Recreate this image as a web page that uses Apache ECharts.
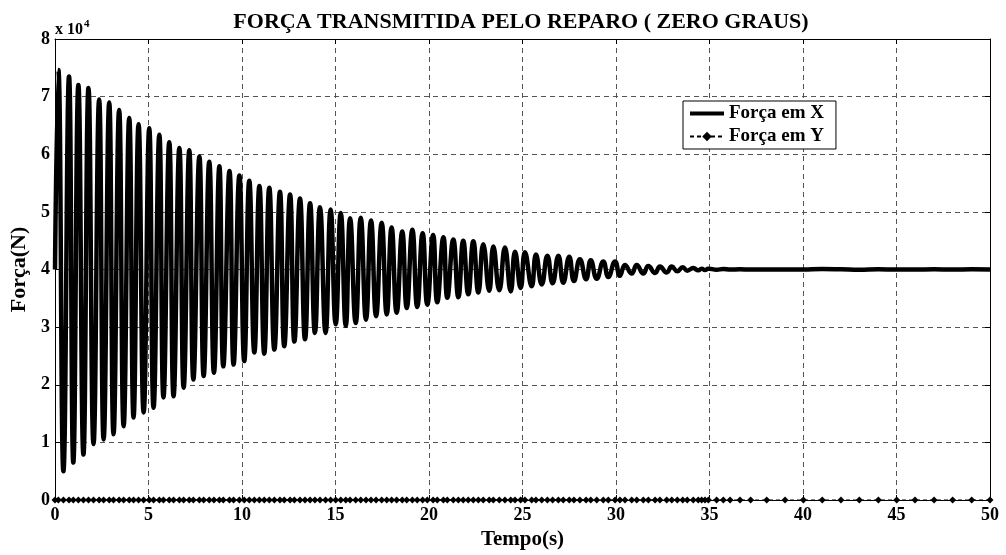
<!DOCTYPE html>
<html>
<head>
<meta charset="utf-8">
<script src="https://cdn.jsdelivr.net/npm/echarts@6/dist/echarts.min.js"></script>
<style>
  html, body { margin: 0; padding: 0; background: #fff; }
  #chart { width: 1006px; height: 555px; }
</style>
</head>
<body>
<div id="chart"></div>
<script>
// Solver time steps (s)
const tempo = [
  0, 0.18, 0.45, 0.75, 0.98, 1.25, 1.52, 1.79, 2.06, 2.36,
  2.60, 2.90, 3.13, 3.43, 3.67, 3.97, 4.20, 4.47, 4.74, 5.04,
  5.27, 5.58, 5.80, 6.11, 6.34, 6.65, 6.88, 7.18, 7.40, 7.72,
  7.95, 8.25, 8.50, 8.79, 9.00, 9.33, 9.55, 9.86, 10.12, 10.39,
  10.66, 10.93, 11.19, 11.46, 11.73, 12.03, 12.26, 12.57, 12.80, 13.10,
  13.37, 13.64, 13.90, 14.17, 14.47, 14.74, 15.01, 15.28, 15.55, 15.78,
  16.08, 16.35, 16.63, 16.90, 17.17, 17.47, 17.74, 18.00, 18.27, 18.57,
  18.81, 19.11, 19.37, 19.66, 19.91, 20.22, 20.44, 20.77, 20.98, 21.30,
  21.57, 21.83, 22.10, 22.37, 22.64, 22.90, 23.22, 23.44, 23.76, 24.06,
  24.37, 24.60, 24.90, 25.13, 25.49, 25.72, 26.03, 26.33, 26.61, 26.92,
  27.18, 27.50, 27.75, 28.07, 28.40, 28.65, 28.97, 29.32, 29.59, 29.95,
  30.21, 30.48, 30.84, 31.11, 31.46, 31.73, 32.09, 32.35, 32.71, 32.98,
  33.28, 33.57, 33.81, 34.13, 34.40, 34.58, 34.76, 34.94, 35.38, 35.74,
  36.10, 36.63, 37.20, 38.06, 39.04, 40.02, 41.03, 42.03, 43.01, 44.03,
  45.01, 45.99, 47.01, 48.00, 49.02, 50.00
];

// Transmitted force in X (N)
const forcaX = [
  40000, 74600, 5000, 73500, 6500, 72000, 7900, 71500, 9700, 69500,
  10500, 69000, 11400, 67700, 12800, 66300, 14300, 65200, 15200, 64500,
  16000, 63400, 17800, 62100, 18000, 61100, 19500, 60700, 20900, 59600,
  21500, 58700, 22100, 57900, 23200, 57100, 23500, 56300, 24100, 55400,
  25600, 54500, 25400, 54200, 26100, 53500, 26700, 53000, 27500, 52300,
  27900, 51500, 29000, 50800, 29000, 50400, 30500, 49800, 30200, 48900,
  30700, 49000, 31300, 48500, 31900, 48100, 32200, 47300, 32500, 46600,
  33300, 46900, 33500, 46300, 33900, 46000, 34300, 45600, 35100, 45200,
  35200, 45000, 35700, 44900, 36000, 44400, 36300, 44000, 36400, 43800,
  36200, 43100, 36800, 43000, 37100, 42600, 37400, 42400, 37600, 42400,
  37700, 42200, 38000, 41800, 38300, 41600, 38400, 41400, 38700, 41400,
  38900, 40800, 39300, 40800, 39300, 40600, 39400, 40500, 39500, 40500,
  39700, 40400, 39800, 40250, 39850, 40150, 39900, 40150, 39950, 40080,
  39980, 40050, 39980, 40000, 39980, 40000, 40080, 40040, 39970, 40030,
  40000, 40000, 40030, 40000, 40030, 40000
];

// Transmitted force in Y (N)
const forcaY = [
  0, 0, 0, 0, 0, 0, 0, 0, 0, 0,
  0, 0, 0, 0, 0, 0, 0, 0, 0, 0,
  0, 0, 0, 0, 0, 0, 0, 0, 0, 0,
  0, 0, 0, 0, 0, 0, 0, 0, 0, 0,
  0, 0, 0, 0, 0, 0, 0, 0, 0, 0,
  0, 0, 0, 0, 0, 0, 0, 0, 0, 0,
  0, 0, 0, 0, 0, 0, 0, 0, 0, 0,
  0, 0, 0, 0, 0, 0, 0, 0, 0, 0,
  0, 0, 0, 0, 0, 0, 0, 0, 0, 0,
  0, 0, 0, 0, 0, 0, 0, 0, 0, 0,
  0, 0, 0, 0, 0, 0, 0, 0, 0, 0,
  0, 0, 0, 0, 0, 0, 0, 0, 0, 0,
  0, 0, 0, 0, 0, 0, 0, 0, 0, 0,
  0, 0, 0, 0, 0, 0, 0, 0, 0, 0,
  0, 0, 0, 0, 0, 0
];

const xTicks = [0, 5, 10, 15, 20, 25, 30, 35, 40, 45, 50];
const yTicks = [0, 1, 2, 3, 4, 5, 6, 7, 8];
const yScale = 10000;

const FONT = "'Liberation Serif', 'Times New Roman', serif";

const serieX = tempo.map((t, i) => [t, forcaX[i]]);
const serieY = tempo.map((t, i) => [t, forcaY[i]]);

// thick bar used as the legend key of the X force
const barKey = 'path://M0,0 H34 V4 H0 Z';

const gridLine = { show: true, lineStyle: { color: '#555', width: 1, type: [5, 4] } };
const frameLine = { show: true, onZero: false, lineStyle: { color: '#000', width: 1 } };
const tickIn = { show: true, inside: true, length: 5, lineStyle: { color: '#000' } };
const tickLabel = { color: '#000', fontFamily: FONT, fontWeight: 'bold', fontSize: 18 };

const chart = echarts.init(document.getElementById('chart'), null, { renderer: 'canvas' });

chart.setOption({
  animation: false,
  backgroundColor: '#fff',
  title: {
    text: 'FORÇA TRANSMITIDA PELO REPARO ( ZERO GRAUS)',
    left: 516, textAlign: 'center', top: 6,
    textStyle: { fontFamily: FONT, fontWeight: 'bold', fontSize: 22, color: '#000' }
  },
  grid: { left: 55, right: 16, top: 39, bottom: 55 },
  legend: {
    orient: 'vertical',
    left: 683, top: 101,
    padding: [3, 12, 3, 6],
    itemGap: 4,
    itemWidth: 34, itemHeight: 12,
    backgroundColor: '#fff',
    borderColor: '#000', borderWidth: 1, borderRadius: 0,
    textStyle: { fontFamily: FONT, fontWeight: 'bold', fontSize: 19, color: '#000' },
    data: [
      { name: 'Força em X', icon: barKey },
      { name: 'Força em Y' }
    ]
  },
  graphic: [{
    type: 'text',
    left: 55, top: 19,
    style: {
      text: '{a|x 10}{b|4}',
      rich: {
        a: { fontFamily: FONT, fontWeight: 'bold', fontSize: 16, fill: '#000', verticalAlign: 'bottom' },
        b: { fontFamily: FONT, fontWeight: 'bold', fontSize: 11, fill: '#000', verticalAlign: 'top', padding: [0, 0, 8, 1] }
      }
    }
  }],
  xAxis: [{
    type: 'value', min: xTicks[0], max: xTicks[xTicks.length - 1], interval: 5,
    name: 'Tempo(s)', nameLocation: 'middle', nameGap: 27,
    nameTextStyle: { fontFamily: FONT, fontWeight: 'bold', fontSize: 21, color: '#000' },
    axisLine: frameLine, axisTick: tickIn,
    axisLabel: Object.assign({ margin: 6 }, tickLabel),
    splitLine: gridLine
  }, {
    type: 'value', position: 'top', min: xTicks[0], max: xTicks[xTicks.length - 1], interval: 5,
    axisLine: frameLine, axisTick: tickIn, axisLabel: { show: false }, splitLine: { show: false }
  }],
  yAxis: [{
    type: 'value', min: yTicks[0] * yScale, max: yTicks[yTicks.length - 1] * yScale, interval: yScale,
    name: 'Força(N)', nameLocation: 'middle', nameGap: 21, nameRotate: 90,
    nameTextStyle: { fontFamily: FONT, fontWeight: 'bold', fontSize: 22, color: '#000' },
    axisLine: frameLine, axisTick: tickIn,
    axisLabel: Object.assign({ margin: 5, formatter: v => String(v / yScale) }, tickLabel),
    splitLine: gridLine
  }, {
    type: 'value', position: 'right', min: yTicks[0] * yScale, max: yTicks[yTicks.length - 1] * yScale, interval: yScale,
    axisLine: frameLine, axisTick: tickIn, axisLabel: { show: false }, splitLine: { show: false }
  }],
  series: [{
    name: 'Força em X',
    type: 'line',
    data: serieX,
    smooth: 0.5,
    showSymbol: false,
    symbol: 'none',
    lineStyle: { color: '#000', width: 4.5 },
    itemStyle: { color: '#000' },
    z: 3
  }, {
    name: 'Força em Y',
    type: 'line',
    data: serieY,
    clip: false,
    symbol: 'diamond',
    symbolSize: 7,
    showSymbol: true,
    lineStyle: { color: '#000', width: 1.2, type: [4, 3] },
    itemStyle: { color: '#000' },
    z: 4
  }]
});
</script>
</body>
</html>
